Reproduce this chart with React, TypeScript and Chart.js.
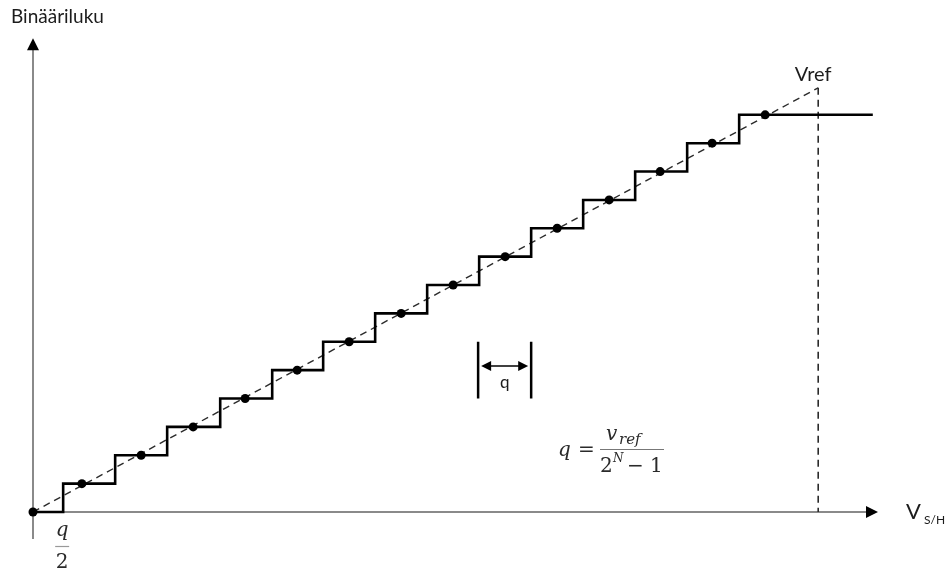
import React, { useEffect, useRef } from "react";
import { Chart, registerables } from "chart.js";

Chart.register(...registerables);

// Input voltage in units of q, output code in LSB steps.
const stepEdges = [0, 0.58, 1.58, 2.58, 3.6, 4.6, 5.58, 6.58, 7.58, 8.58, 9.58, 10.58, 11.58, 12.58, 13.58, 16.15];
const stepCodes = [0, 1, 2, 3, 4, 5, 6, 7, 8, 9, 10, 11, 12, 13, 14, 14];
const sampleX = [0, 0.94, 2.08, 3.08, 4.08, 5.08, 6.08, 7.08, 8.08, 9.08, 10.08, 11.08, 12.06, 13.06, 14.08];
const sampleCodes = [0, 1, 2, 3, 4, 5, 6, 7, 8, 9, 10, 11, 12, 13, 14];
const idealX = [0, 15.1];
const idealCodes = [0, 14.95];
const vrefX = 15.1;
const vrefCode = 14.95;
const qBracket = [8.56, 9.58];

const X_MAX = 16.25;
const Y_MAX = 15;

const AXIS_COLOR = "#8a8a8a";
const TEXT_COLOR = "#1c1c1c";
const MATH_COLOR = "#2a2a2a";
const SANS = "Lato, 'Noto Sans', sans-serif";
const SERIF = "'DejaVu Serif', 'Liberation Serif', serif";

function arrowHead(ctx: CanvasRenderingContext2D, x: number, y: number, dir: "up" | "right" | "left", len: number, half: number) {
  ctx.beginPath();
  if (dir === "up") {
    ctx.moveTo(x, y);
    ctx.lineTo(x - half, y + len);
    ctx.lineTo(x + half, y + len);
  } else if (dir === "right") {
    ctx.moveTo(x, y);
    ctx.lineTo(x - len, y - half);
    ctx.lineTo(x - len, y + half);
  } else {
    ctx.moveTo(x, y);
    ctx.lineTo(x + len, y - half);
    ctx.lineTo(x + len, y + half);
  }
  ctx.closePath();
  ctx.fill();
}

const axesPlugin = {
  id: "adcAxes",
  beforeDatasetsDraw(chart: any) {
    const { ctx } = chart;
    const xs = chart.scales.x;
    const ys = chart.scales.y;
    const x0 = xs.getPixelForValue(0);
    const y0 = ys.getPixelForValue(0);
    const yTop = ys.getPixelForValue(16.7);
    const yBottom = ys.getPixelForValue(-0.95);
    const xEnd = xs.getPixelForValue(X_MAX);
    ctx.save();
    ctx.strokeStyle = AXIS_COLOR;
    ctx.lineWidth = 2;
    ctx.beginPath();
    ctx.moveTo(x0, yBottom);
    ctx.lineTo(x0, yTop + 10);
    ctx.moveTo(x0, y0);
    ctx.lineTo(xEnd - 10, y0);
    ctx.stroke();
    ctx.fillStyle = "#000";
    arrowHead(ctx, x0, yTop, "up", 12, 6);
    arrowHead(ctx, xEnd, y0, "right", 12, 6);
    ctx.restore();
  },
  afterDatasetsDraw(chart: any) {
    const { ctx } = chart;
    const xs = chart.scales.x;
    const ys = chart.scales.y;
    ctx.save();

    // axis titles
    ctx.fillStyle = TEXT_COLOR;
    ctx.textBaseline = "alphabetic";
    ctx.textAlign = "left";
    ctx.font = `19px ${SANS}`;
    ctx.fillText("Binääriluku", 11, 23);

    ctx.font = `22px ${SANS}`;
    ctx.fillText("V", 906, 519);
    ctx.font = `12px ${SANS}`;
    ctx.fillText("S/H", 924, 524);

    // Vref label
    const vx = xs.getPixelForValue(vrefX);
    const vy = ys.getPixelForValue(vrefCode);
    ctx.font = `20px ${SANS}`;
    ctx.textAlign = "center";
    ctx.fillText("Vref", vx - 5, vy - 7);

    // q/2 under the first step
    const hx = xs.getPixelForValue(stepEdges[1]);
    const y0 = ys.getPixelForValue(0);
    ctx.fillStyle = MATH_COLOR;
    ctx.font = `italic 20px ${SERIF}`;
    ctx.fillText("q", hx - 1, y0 + 24);
    ctx.strokeStyle = "#999";
    ctx.lineWidth = 1.2;
    ctx.beginPath();
    ctx.moveTo(hx - 8, y0 + 34.5);
    ctx.lineTo(hx + 6, y0 + 34.5);
    ctx.stroke();
    ctx.font = `20px ${SERIF}`;
    ctx.fillText("2", hx - 1, y0 + 56);

    // q bracket
    const bl = xs.getPixelForValue(qBracket[0]);
    const br = xs.getPixelForValue(qBracket[1]);
    const bt = ys.getPixelForValue(6.0);
    const bb = ys.getPixelForValue(4.0);
    const by = ys.getPixelForValue(5.15);
    ctx.strokeStyle = "#000";
    ctx.lineWidth = 2.5;
    ctx.beginPath();
    ctx.moveTo(bl, bt);
    ctx.lineTo(bl, bb);
    ctx.moveTo(br, bt);
    ctx.lineTo(br, bb);
    ctx.stroke();
    ctx.lineWidth = 1.5;
    ctx.beginPath();
    ctx.moveTo(bl + 10, by);
    ctx.lineTo(br - 10, by);
    ctx.stroke();
    ctx.fillStyle = "#000";
    arrowHead(ctx, bl + 3, by, "left", 10, 5);
    arrowHead(ctx, br - 3, by, "right", 10, 5);
    ctx.fillStyle = TEXT_COLOR;
    ctx.font = `17px ${SANS}`;
    ctx.textAlign = "center";
    ctx.fillText("q", (bl + br) / 2, by + 22);

    // q = v_ref / (2^N - 1)
    ctx.fillStyle = MATH_COLOR;
    ctx.textAlign = "left";
    ctx.font = `italic 20px ${SERIF}`;
    ctx.fillText("q", 558, 456);
    ctx.font = `20px ${SERIF}`;
    ctx.fillText("=", 578, 456);
    ctx.font = `italic 20px ${SERIF}`;
    ctx.fillText("v", 606, 440);
    ctx.font = `italic 15px ${SERIF}`;
    ctx.fillText("ref", 619, 444);
    ctx.strokeStyle = "#777";
    ctx.lineWidth = 1.2;
    ctx.beginPath();
    ctx.moveTo(600, 449.5);
    ctx.lineTo(664, 449.5);
    ctx.stroke();
    ctx.font = `20px ${SERIF}`;
    ctx.fillText("2", 600, 472);
    ctx.font = `italic 12px ${SERIF}`;
    ctx.fillText("N", 613, 462);
    ctx.font = `20px ${SERIF}`;
    ctx.fillText("\u2212 1", 627, 472);

    ctx.restore();
  },
};

export default function App() {
  const canvasRef = useRef<HTMLCanvasElement | null>(null);

  useEffect(() => {
    const canvas = canvasRef.current;
    if (!canvas) return;

    const steps = stepEdges.map((x, i) => ({ x, y: stepCodes[i] }));
    const samples = sampleX.map((x, i) => ({ x, y: sampleCodes[i] }));
    const ideal = idealX.map((x, i) => ({ x, y: idealCodes[i] }));
    const vrefLine = [
      { x: vrefX, y: vrefCode },
      { x: vrefX, y: 0 },
    ];

    const chart = new Chart(canvas, {
      type: "scatter",
      data: {
        datasets: [
          {
            label: "ideal",
            data: ideal,
            showLine: true,
            borderColor: "#2b2b2b",
            borderWidth: 1.4,
            borderDash: [7, 5],
            pointRadius: 0,
            clip: false,
            order: 3,
          } as any,
          {
            label: "Vref",
            data: vrefLine,
            showLine: true,
            borderColor: "#2b2b2b",
            borderWidth: 1.6,
            borderDash: [7, 5],
            pointRadius: 0,
            clip: false,
            order: 3,
          } as any,
          {
            label: "code",
            data: steps,
            showLine: true,
            stepped: "before",
            borderColor: "#000",
            borderWidth: 2.6,
            pointRadius: 0,
            clip: false,
            order: 2,
          } as any,
          {
            label: "samples",
            data: samples,
            showLine: false,
            pointRadius: 4.5,
            pointBackgroundColor: "#000",
            pointBorderWidth: 0,
            clip: false,
            order: 1,
          } as any,
        ],
      },
      options: {
        responsive: false,
        animation: false,
        events: [],
        layout: { padding: { left: 33, right: 946 - 33 - X_MAX * 52, top: 512 - Y_MAX * 28.37, bottom: 60 } },
        plugins: { legend: { display: false }, tooltip: { enabled: false } },
        scales: {
          x: { type: "linear", min: 0, max: X_MAX, display: false },
          y: { type: "linear", min: 0, max: Y_MAX, display: false },
        },
      },
      plugins: [axesPlugin],
    });

    return () => chart.destroy();
  }, []);

  return (
    <div style={{ position: "fixed", left: 0, top: 0, width: 946, height: 572, background: "#fff" }}>
      <canvas ref={canvasRef} width={946} height={572} style={{ display: "block" }} />
    </div>
  );
}
